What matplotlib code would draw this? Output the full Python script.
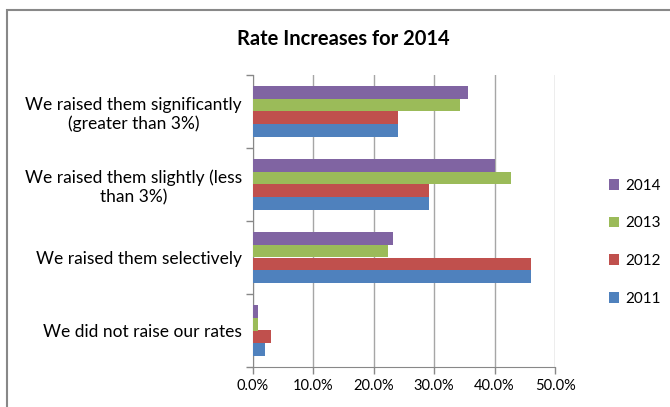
import numpy as np
import matplotlib
matplotlib.use('Agg')
import matplotlib.pyplot as plt
from matplotlib.patches import Rectangle
from matplotlib.ticker import FuncFormatter, FixedLocator

plt.rcParams['font.family'] = ['Lato', 'DejaVu Sans']

categories = ['We did not raise our rates',
              'We raised them selectively',
              'We raised them slightly (less\nthan 3%)',
              'We raised them significantly\n(greater than 3%)']
years = ['2011', '2012', '2013', '2014']
v2011 = [2.0, 46.0, 29.1, 24.0]
v2012 = [3.0, 46.0, 29.1, 24.0]
v2013 = [0.9, 22.3, 42.7, 34.2]
v2014 = [0.9, 23.2, 40.1, 35.6]
series = [v2011, v2012, v2013, v2014]
colors = ['#4F81BD', '#C0504D', '#9BBB59', '#8064A2']

fig = plt.figure(figsize=(6.7, 4.07), dpi=100)
ax = fig.add_axes([253/670, 1 - 367/407, 302/670, 292/407])

y = np.arange(len(categories))
h = 0.178
for i, (vals, col, yr) in enumerate(zip(series, colors, years)):
    ax.barh(y + (i - 1.5) * h, np.array(vals) / 100, height=h, color=col,
            label=yr, edgecolor='none', zorder=3)

ax.set_xlim(0, 0.5)
ax.set_ylim(-0.5, 3.5)
ax.set_xticks(np.arange(0, 0.51, 0.1))
ax.xaxis.set_major_formatter(FuncFormatter(lambda v, p: f'{v*100:.1f}%'))
ax.grid(axis='x', color='#A6A6A6', lw=1, zorder=0)

ax.set_yticks(y)
ax.set_yticklabels(categories, fontsize=12.5)
for lab in ax.get_yticklabels():
    lab.set_multialignment('center')
ax.yaxis.set_minor_locator(FixedLocator(np.arange(-0.5, 3.6, 1)))
ax.tick_params(axis='y', which='major', length=0, pad=8)
ax.tick_params(axis='y', which='minor', length=5, color='#888888', width=1)
ax.tick_params(axis='x', length=5, color='#888888', width=1, labelsize=10.5, pad=4)

for s in ['top', 'right']:
    ax.spines[s].set_visible(False)
for s in ['left', 'bottom']:
    ax.spines[s].set_color('#888888')

handles, labels = ax.get_legend_handles_labels()
fig.legend(handles[::-1], labels[::-1], loc='upper left',
           bbox_to_anchor=(595/670, 1 - 165/407), frameon=False,
           fontsize=11, handlelength=0.7, handleheight=0.7,
           handletextpad=0.4, labelspacing=1.55)

fig.text(343/670, 1 - 39/407, 'Rate Increases for 2014', ha='center',
         va='center', fontsize=14.5, fontweight='bold')

fig.patches.append(Rectangle((7/670, -0.1), 1.2, 1 - 10/407 + 0.1,
                             transform=fig.transFigure, fill=False,
                             edgecolor='#888888', lw=1.5))

fig.savefig('out.png', dpi=100)
